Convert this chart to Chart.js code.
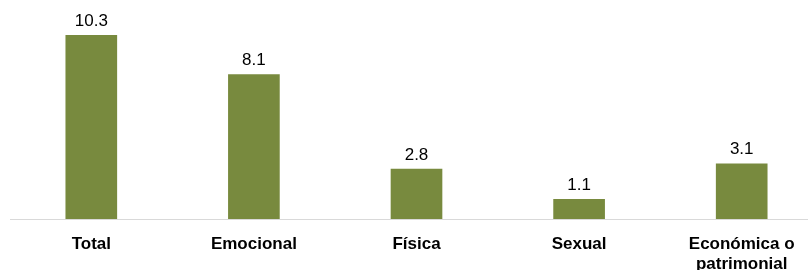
<!DOCTYPE html>
<html>
<head>
<meta charset="utf-8">
<script src="https://cdn.jsdelivr.net/npm/chart.js@4"></script>
<style>
    html, body { margin: 0; padding: 0; background: #fff; overflow: hidden; }
    .chart-container { width: 823px; height: 270px; }
</style>
</head>
<body>
<div class="chart-container">
    <canvas id="violenceChart" width="823" height="270"></canvas>
</div>
<script>
const categories = ["Total", "Emocional", "Física", "Sexual", ["Económica o", "patrimonial"]];
const values = [10.3, 8.1, 2.8, 1.1, 3.1];

const barColor = "#788a3e";
const fontFamily = "'Liberation Sans', Arial, sans-serif";

// draws the number above every bar
const valueLabels = {
    id: "valueLabels",
    afterDatasetsDraw(chart) {
        const ctx = chart.ctx;
        ctx.save();
        ctx.font = "17px " + fontFamily;
        ctx.fillStyle = "#000";
        ctx.textAlign = "center";
        ctx.textBaseline = "alphabetic";
        chart.getDatasetMeta(0).data.forEach((bar, i) => {
            ctx.fillText(values[i].toFixed(1), bar.x, bar.y - 9.5);
        });
        ctx.restore();
    },
};

let ctx = document.getElementById("violenceChart").getContext("2d");

window.violenceChart = new Chart(ctx, {
    type: "bar",
    data: {
        labels: categories,
        datasets: [
            {
                label: "",
                data: values,
                backgroundColor: barColor,
                barThickness: 51,
            },
        ],
    },
    options: {
        responsive: false,
        animation: false,
        layout: {
            padding: { top: 5, left: 10, right: 0, bottom: 0 },
        },
        scales: {
            y: {
                display: false,
                min: 0,
                max: 12,
            },
            x: {
                grid: {
                    display: false,
                    drawTicks: false,
                },
                border: {
                    display: true,
                    color: "#d9d9d9",
                    width: 1,
                },
                ticks: {
                    color: "#000",
                    padding: 16,
                    maxRotation: 0,
                    autoSkip: false,
                    font: {
                        family: fontFamily,
                        size: 17,
                        weight: "bold",
                        lineHeight: 1.15,
                    },
                },
                afterFit: (scale) => {
                    scale.height = 51;
                },
            },
        },
        plugins: {
            legend: { display: false },
            tooltip: { enabled: false },
        },
    },
    plugins: [valueLabels],
});
</script>
</body>
</html>
